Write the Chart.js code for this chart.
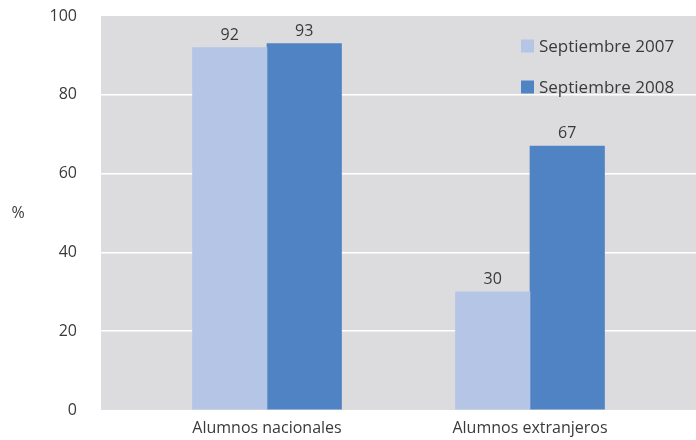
<!DOCTYPE html>
<html>
<head>
<meta charset="utf-8">
<script src="https://cdn.jsdelivr.net/npm/chart.js@4/dist/chart.umd.min.js"></script>
<style>
html,body{margin:0;padding:0;background:#fff;overflow:hidden;}
#wrap{width:696px;height:440px;position:relative;}
</style>
</head>
<body>
<div id="wrap"><canvas id="c" width="696" height="440"></canvas></div>
<script>
const categories = ['Alumnos nacionales', 'Alumnos extranjeros'];
const seriesNames = ['Septiembre 2007', 'Septiembre 2008'];
const values2007 = [92, 30];
const values2008 = [93, 67];
const yTicks = [0, 20, 40, 60, 80, 100];

const FONT = '"Open Sans", "DejaVu Sans", sans-serif';
const TEXT = '#3a3a3a';
const colors = ['#b4c5e6', '#4f83c4'];

const toPoints = arr => arr.map((v, i) => ({ x: i + 1, y: v }));

const bgPlugin = {
  id: 'bg',
  beforeDraw(chart) {
    const { ctx, chartArea: a } = chart;
    ctx.save();
    ctx.fillStyle = '#dcdcde';
    ctx.fillRect(a.left, a.top, a.right - a.left, a.bottom - a.top);
    ctx.restore();
  },
  afterDatasetsDraw(chart) {
    const { ctx, chartArea: a } = chart;
    ctx.save();
    ctx.font = '16px ' + FONT;
    ctx.fillStyle = TEXT;
    ctx.textAlign = 'center';
    ctx.textBaseline = 'alphabetic';
    chart.data.datasets.forEach((ds, di) => {
      chart.getDatasetMeta(di).data.forEach((bar, i) => {
        ctx.fillText(String(ds.data[i].y), bar.x, bar.y - 8);
      });
    });
    // legend
    const lx = a.right - 175, ly0 = a.top + 30, gap = 41;
    ctx.font = '17px ' + FONT;
    ctx.textAlign = 'left';
    ctx.textBaseline = 'middle';
    chart.data.datasets.forEach((ds, di) => {
      const y = ly0 + di * gap;
      ctx.fillStyle = ds.backgroundColor;
      ctx.fillRect(lx, y - 6.5, 13, 13);
      ctx.fillStyle = TEXT;
      ctx.fillText(ds.label, lx + 18, y + 1);
    });
    // % label
    ctx.font = '16px ' + FONT;
    ctx.textAlign = 'center';
    ctx.fillText('%', 18, (a.top + a.bottom) / 2);
    ctx.restore();
  }
};

new Chart(document.getElementById('c'), {
  type: 'bar',
  data: {
    datasets: [
      { label: seriesNames[0], data: toPoints(values2007), backgroundColor: colors[0], barThickness: 74.5 },
      { label: seriesNames[1], data: toPoints(values2008), backgroundColor: colors[1], barThickness: 74.5 }
    ]
  },
  options: {
    responsive: false,
    animation: false,
    layout: { padding: { top: 16, right: 0, left: 0, bottom: 0 } },
    plugins: { legend: { display: false }, tooltip: { enabled: false } },
    scales: {
      x: {
        type: 'linear',
        offset: false,
        min: 0.3688,
        max: 2.6312,
        grid: { display: false, offset: false, drawTicks: false },
        border: { display: false },
        afterBuildTicks: s => { s.ticks = categories.map((c, i) => ({ value: i + 1 })); },
        afterFit: s => { s.height = 30; },
        ticks: {
          autoSkip: false,
          maxRotation: 0,
          padding: 9,
          color: TEXT,
          font: { family: FONT, size: 16 },
          callback: v => categories[v - 1] || ''
        }
      },
      y: {
        min: 0,
        max: 100,
        afterBuildTicks: s => { s.ticks = yTicks.map(v => ({ value: v })); },
        afterFit: s => { s.width = 101; },
        grid: {
          drawTicks: true,
          tickLength: 24,
          lineWidth: 1.5,
          color: c => (c.tick && (c.tick.value === 0 || c.tick.value === 100)) ? 'rgba(0,0,0,0)' : '#ffffff'
        },
        border: { display: false },
        ticks: {
          padding: 0,
          color: TEXT,
          font: { family: FONT, size: 16 }
        }
      }
    }
  },
  plugins: [bgPlugin]
});
</script>
</body>
</html>
